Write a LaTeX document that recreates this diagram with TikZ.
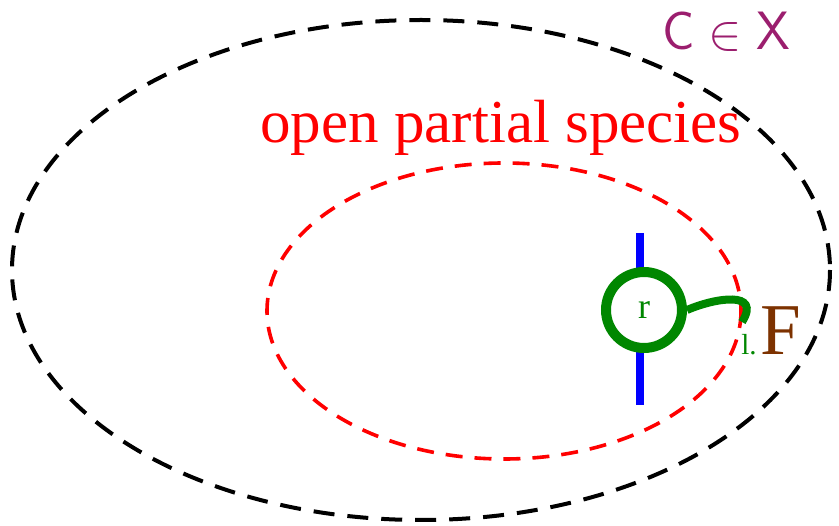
\documentclass[tikz,border=0pt]{standalone}
\usepackage{fontspec}
\setmainfont{Liberation Serif}
\definecolor{cpurple}{RGB}{155,30,110}
\definecolor{fbrown}{RGB}{125,50,0}
\definecolor{dgreen}{RGB}{0,135,0}
\begin{document}
\begin{tikzpicture}[x=1pt,y=-1pt,
  outerset/.style={draw=black,line width=4pt,dash pattern=on 21pt off 13pt},
  innerset/.style={draw=red,line width=3.6pt,dash pattern=on 17pt off 12pt},
  lbl/.style={inner sep=0pt,anchor=base}]
\useasboundingbox (0,0) rectangle (839,526);
\draw[outerset] (421,270) ellipse [x radius=409, y radius=250];
\draw[innerset] (504,311) ellipse [x radius=237, y radius=148];
\node[lbl,text=red,font=\fontsize{61}{61}\selectfont] (title) at (501,143) {open partial species};
\node[lbl,text=cpurple,font=\sffamily\fontsize{54}{54}\selectfont] (cx) at (726,50)
  {C\hspace{14pt}\scalebox{5}{\normalsize$\in$}\hspace{14pt}X};
\coordinate (btop) at (640,233);
\coordinate (bbot) at (640,405);
\draw[blue,line width=8pt] (btop) -- (bbot);
\node[circle,draw=dgreen,line width=10pt,fill=white,minimum size=76pt,inner sep=0pt,
  text=dgreen,font=\fontsize{36}{36}\selectfont] (r) at (644,310) {r};
\coordinate (hook) at (742,322);
\draw[dgreen,line width=8pt] (r.east) .. controls (715,298) and (762,290) .. (hook);
\node[lbl,text=dgreen,font=\fontsize{29}{29}\selectfont] (l) at (749,355) {l.};
\node[lbl,text=fbrown,font=\fontsize{73}{73}\selectfont] (F) at (781,355) {F};
\end{tikzpicture}
\end{document}
